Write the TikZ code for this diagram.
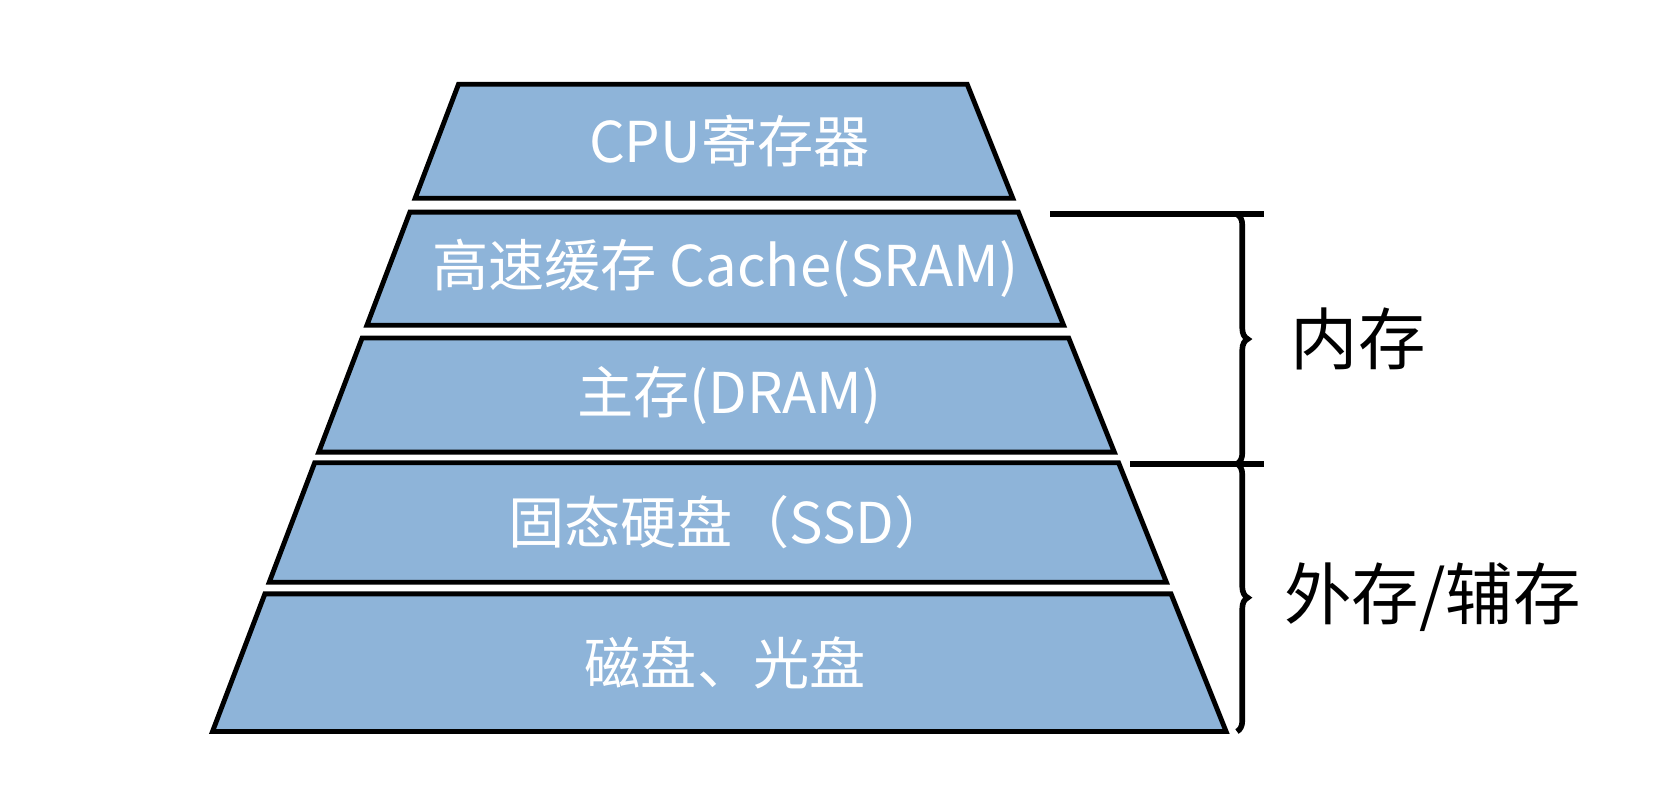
\documentclass[tikz,border=0pt]{standalone}
\usepackage{fontspec}
\setmainfont{Noto Sans CJK SC}
\usetikzlibrary{decorations.pathreplacing}
\definecolor{tierblue}{RGB}{142,180,217}

\begin{document}
\begin{tikzpicture}[
  tier/.style={draw=black, line width=1.3pt, line join=miter, fill=tierblue},
  tiertext/.style={text=white, font=\fontsize{15}{18}\selectfont},
  bracket/.style={decorate, decoration={brace, amplitude=0.1cm}, line width=1.5pt},
  sidelabel/.style={anchor=west, font=\fontsize{18}{21}\selectfont}]
  \useasboundingbox (0,0) rectangle (15.68,7.46);
  \draw[tier] (4.300,6.67) -- (9.070,6.67) -- (9.498,5.60) -- (3.893,5.60) -- cycle;
  \draw[tier] (3.844,5.47) -- (9.550,5.47) -- (9.974,4.41) -- (3.441,4.41) -- cycle;
  \draw[tier] (3.396,4.29) -- (10.022,4.29) -- (10.450,3.22) -- (2.989,3.22) -- cycle;
  \draw[tier] (2.951,3.12) -- (10.490,3.12) -- (10.938,2.00) -- (2.525,2.00) -- cycle;
  \draw[tier] (2.484,1.89) -- (10.982,1.89) -- (11.498,0.60) -- (1.993,0.60) -- cycle;

  \node[tiertext] (cpu) at (6.84,6.135) {CPU寄存器};
  \node[tiertext] (cache) at (6.80,4.94) {高速缓存 Cache(SRAM)};
  \node[tiertext] (dram) at (6.84,3.755) {主存(DRAM)};
  \node[tiertext] (ssd) at (6.84,2.56) {固态硬盘（SSD）};
  \node[tiertext] (disk) at (6.80,1.245) {磁盘、光盘};

  \coordinate (memStart) at (9.85,5.45);
  \coordinate (memTop) at (11.60,5.45);
  \coordinate (memEnd) at (11.85,5.45);
  \coordinate (extStart) at (10.60,3.11);
  \coordinate (memBot) at (11.60,3.11);
  \coordinate (extEnd) at (11.85,3.11);
  \coordinate (extBot) at (11.60,0.60);
  \draw[line width=1.5pt] (memStart) -- (memEnd);
  \draw[line width=1.5pt] (extStart) -- (extEnd);
  \draw[bracket] (memTop) -- (memBot);
  \draw[bracket] (memBot) -- (extBot);

  \node[sidelabel] (mem) at (11.98,4.28) {内存};
  \node[sidelabel] (ext) at (11.92,1.86) {外存/辅存};
\end{tikzpicture}
\end{document}
